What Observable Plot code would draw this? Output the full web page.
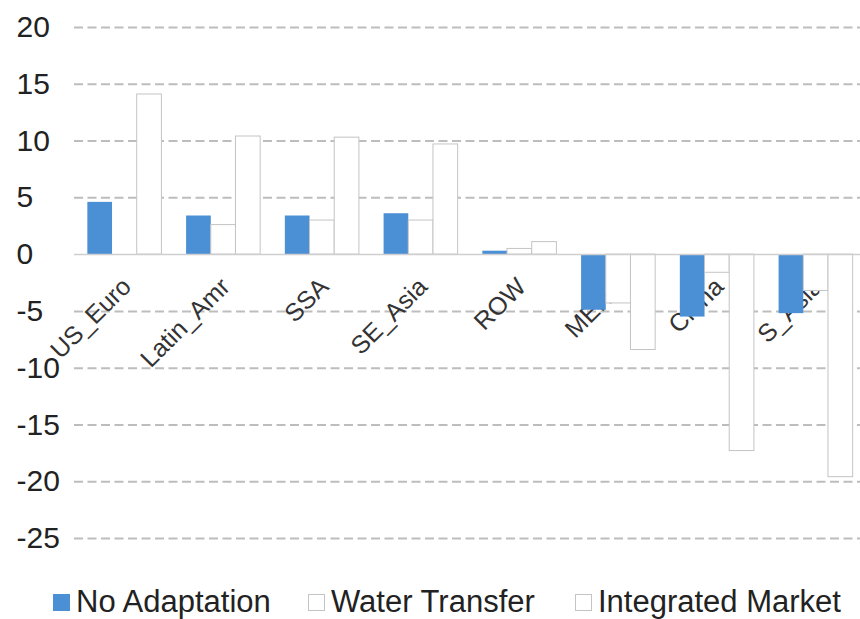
<!DOCTYPE html>
<html>
<head>
<meta charset="utf-8">
<script src="https://cdn.jsdelivr.net/npm/d3@7"></script>
<script src="https://cdn.jsdelivr.net/npm/@observablehq/plot@0.6"></script>
<style>
  html, body { margin: 0; padding: 0; background: #fff; overflow: hidden; }
  #wrap { position: relative; width: 860px; height: 619px; font-family: "Liberation Sans", Arial, sans-serif; }
  #legend { position: absolute; left: 0; top: 575px; width: 860px; height: 44px; }
  .item { position: absolute; top: 12px; display: flex; align-items: center; height: 30px; font-size: 31px; line-height: 30px; color: #222; white-space: nowrap; }
  .swatch { width: 17px; height: 17px; box-sizing: border-box; margin-right: 6px; }
</style>
</head>
<body>
<div id="wrap">
  <div id="chart"></div>
  <div id="legend"></div>
</div>
<script>
// Regions and change (%) under each scenario
const regions = ["US_Euro", "Latin_Amr", "SSA", "SE_Asia", "ROW", "MENA", "China", "S_Asia"];
const noAdaptation     = [4.6, 3.4, 3.4, 3.6, 0.3, -4.9, -5.5, -5.2];
const waterTransfer    = [0.0, 2.6, 3.0, 3.0, 0.5, -4.3, -1.6, -3.2];
const integratedMarket = [14.1, 10.4, 10.3, 9.7, 1.1, -8.4, -17.3, -19.6];
const seriesNames = ["No Adaptation", "Water Transfer", "Integrated Market"];
const yTicks = [20, 15, 10, 5, 0, -5, -10, -15, -20, -25];

const seriesValues = [noAdaptation, waterTransfer, integratedMarket];
const fills = ["#4b8fd5", "#ffffff", "#ffffff"];
const strokes = ["none", "#c4c4c4", "#c4c4c4"];

const width = 860, height = 575;
const marginLeft = 74, marginTop = 27, marginBottom = 37;
const xRange = [75, 865];
const paddingInner = 0.25, paddingOuter = 0.125;

// three bars share each region's band
const step = (xRange[1] - xRange[0]) / (regions.length - paddingInner + 2 * paddingOuter);
const sub = step * (1 - paddingInner) / 3;

const table = seriesNames.map((name, i) =>
  regions.map((region, j) => ({region, series: name, value: seriesValues[i][j]}))
);

const bars = table.map((rows, i) =>
  Plot.barY(rows, {
    x: "region",
    y: "value",
    fill: fills[i],
    stroke: strokes[i],
    strokeWidth: 1,
    insetLeft: i * sub,
    insetRight: (2 - i) * sub
  })
);

const chart = Plot.plot({
  width, height,
  marginLeft, marginRight: 0, marginTop, marginBottom,
  style: {fontFamily: "'Liberation Sans', Arial, sans-serif", background: "#fff"},
  x: {type: "band", domain: regions, range: xRange, paddingInner, paddingOuter, round: false, axis: null},
  y: {domain: [-25, 20], axis: null},
  marks: [
    // dashed grid
    Plot.ruleY(yTicks.filter(d => d !== 0), {stroke: "#bdbdbd", strokeWidth: 2, strokeDasharray: "9,4.5"}),
    // category labels sit under the bars
    Plot.text(regions, {
      x: d => d, y: () => 0, text: d => d,
      rotate: -45, textAnchor: "end", dx: 2, dy: 28,
      fontSize: 25, fill: "#333"
    }),
    ...bars,
    Plot.ruleY([0], {stroke: "#cfcfcf", strokeWidth: 1.5}),
    // value axis labels
    Plot.text(yTicks, {
      y: d => d, text: d => String(d),
      frameAnchor: "left", textAnchor: "start", dx: -58,
      fontSize: 30, fill: "#222"
    })
  ]
});
document.getElementById("chart").appendChild(chart);

// legend
const legendLeft = [53, 308, 575];
const legend = document.getElementById("legend");
seriesNames.forEach((name, i) => {
  const item = document.createElement("div");
  item.className = "item";
  item.style.left = legendLeft[i] + "px";
  const sw = document.createElement("span");
  sw.className = "swatch";
  sw.style.background = fills[i];
  sw.style.border = i === 0 ? "none" : "1px solid #c4c4c4";
  item.appendChild(sw);
  item.appendChild(document.createTextNode(name));
  legend.appendChild(item);
});
</script>
</body>
</html>
